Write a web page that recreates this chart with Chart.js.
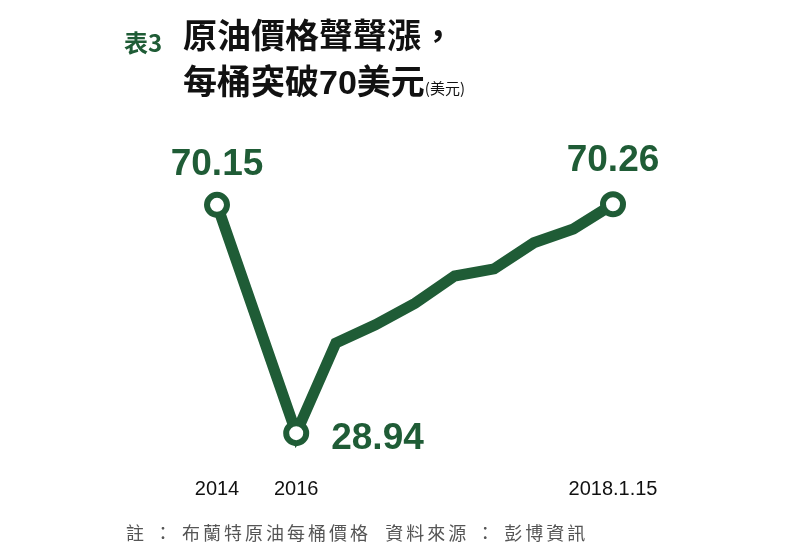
<!DOCTYPE html>
<html><head><meta charset="utf-8">
<script src="https://cdn.jsdelivr.net/npm/chart.js@4"></script>
<style>
body{margin:0;background:#fff;font-family:"Noto Sans CJK TC",sans-serif}
#wrap{position:relative;width:792px;height:555px}
canvas{position:absolute;left:0;top:0}
.t{position:absolute;font-weight:bold;color:#111;white-space:nowrap}
</style></head><body>
<div id="wrap">
<canvas id="c" width="792" height="555"></canvas>
<div class="t" style="left:124px;top:24px;font-size:24px;color:#1f5c36">表3</div>
<div class="t" style="left:183px;top:14px;font-size:34px;line-height:40px">原油價格聲聲漲，</div>
<div class="t" style="left:183px;top:60px;font-size:34px;line-height:40px">每桶突破<span style="font-family:'Liberation Sans'">70</span>美元<span style="font-size:15px;font-weight:normal">(美元)</span></div>
<div class="t" style="left:126px;top:519px;font-size:18px;font-weight:normal;color:#555;letter-spacing:3px">註 ： 布蘭特原油每桶價格 &nbsp;資料來源 ： 彭博資訊</div>
</div>
<script>
// 布蘭特原油每桶價格（美元）
const labels = ["2014", "", "2016", "", "", "", "", "", "", "", "2018.1.15"];
const prices = [70.15, null, 28.94, 45.2, 48.5, 52.4, 57.3, 58.6, 63.3, 65.8, 70.26];
const green = "#1f5c36";

const annotate = {
    id: "annotate",
    afterDatasetsDraw(chart) {
        const ctx = chart.ctx;
        const x = chart.scales.x, y = chart.scales.y;
        ctx.save();
        ctx.font = "20px 'Liberation Sans'";
        ctx.fillStyle = "#111";
        ctx.textAlign = "center";
        labels.forEach((l, i) => { if (l) ctx.fillText(l, x.getPixelForValue(i), 495); });
        ctx.font = "bold 37px 'Liberation Sans'";
        ctx.fillStyle = green;
        ctx.fillText(prices[0].toFixed(2), x.getPixelForValue(0), y.getPixelForValue(prices[0]) - 30);
        ctx.fillText(prices[10].toFixed(2), x.getPixelForValue(10), y.getPixelForValue(prices[10]) - 33);
        ctx.textAlign = "left";
        ctx.fillText(prices[2].toFixed(2), x.getPixelForValue(2) + 35, y.getPixelForValue(prices[2]) + 16);
        ctx.restore();
    }
};

new Chart(document.getElementById("c").getContext("2d"), {
    type: "line",
    data: {
        labels: labels,
        datasets: [{
            data: prices,
            borderColor: green,
            borderWidth: 11,
            spanGaps: true,
            tension: 0,
            pointRadius: prices.map((v, i) => (i === 0 || i === 2 || i === 10) ? 10 : 0),
            pointBorderWidth: 6,
            pointBackgroundColor: "#fff",
            pointBorderColor: green,
        }],
    },
    options: {
        responsive: false,
        animation: false,
        layout: { padding: { left: 217, right: 179, top: 178, bottom: 100 } },
        scales: {
            x: { display: false, offset: false },
            y: { display: false, min: 25, max: 75 },
        },
        plugins: { legend: { display: false }, tooltip: { enabled: false } },
    },
    plugins: [annotate],
});
</script>
</body></html>
